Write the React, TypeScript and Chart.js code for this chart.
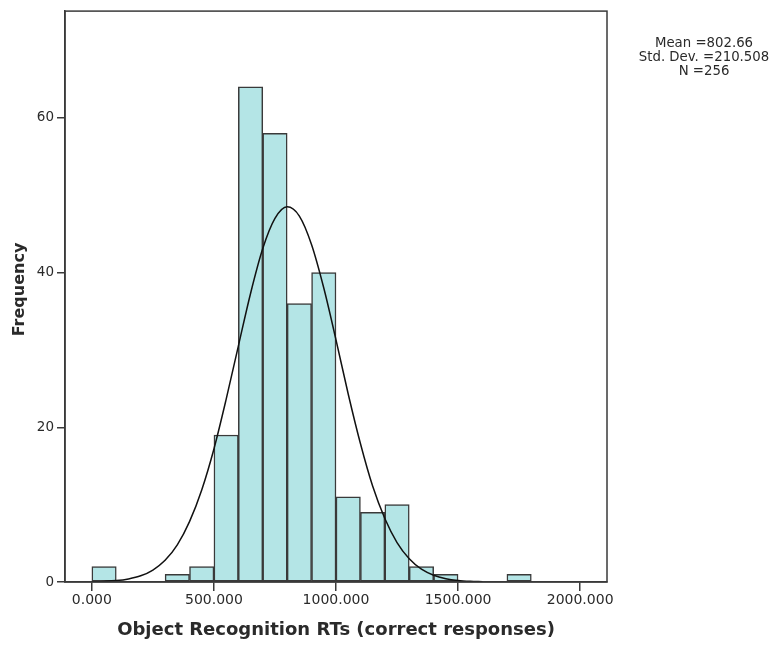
import React, { useEffect, useRef } from "react";
import { Chart, registerables } from "chart.js";

Chart.register(...registerables);

// Histogram bins (left edges, width 100) and their frequencies
const binWidth = 100;
const binStarts = [0, 100, 200, 300, 400, 500, 600, 700, 800, 900, 1000, 1100, 1200, 1300, 1400, 1500, 1600, 1700];
const counts = [2, 0, 0, 1, 2, 19, 64, 58, 36, 40, 11, 9, 10, 2, 1, 0, 0, 1];

// Fitted normal curve
const curveX = [0, 50, 100, 150, 200, 250, 300, 350, 400, 450, 500, 550, 600, 650, 700, 750, 800, 850, 900, 950, 1000, 1050, 1100, 1150, 1200, 1250, 1300, 1350, 1400, 1450, 1500, 1550, 1600];
const curveY = [0.03, 0.08, 0.18, 0.4, 0.8, 1.55, 2.8, 4.8, 7.8, 11.9, 17.2, 23.6, 30.5, 37.3, 43.1, 47.0, 48.5, 47.3, 43.6, 38.0, 31.3, 24.3, 17.9, 12.4, 8.2, 5.1, 3.0, 1.65, 0.87, 0.43, 0.2, 0.09, 0.04];

const xTicks = [0, 500, 1000, 1500, 2000];
const yTicks = [0, 20, 40, 60];
const statsLines = ["Mean =802.66", "Std. Dev. =210.508", "N =256"];
const xTitle = "Object Recognition RTs (correct responses)";
const yTitle = "Frequency";

const FONT = "'DejaVu Sans', sans-serif";
const LINE = "#3a3a3a";
const TEXT = "#2a2a2a";

export default function App() {
  const ref = useRef<HTMLCanvasElement | null>(null);

  useEffect(() => {
    document.body.style.margin = "0";
    const canvas = ref.current;
    if (!canvas) return;

    const framePlugin = {
      id: "frame",
      afterDatasetsDraw(chart: any) {
        const { ctx, chartArea } = chart;
        ctx.save();
        ctx.strokeStyle = LINE;
        ctx.lineWidth = 1.5;
        ctx.strokeRect(chartArea.left, chartArea.top, chartArea.right - chartArea.left, chartArea.bottom - chartArea.top);
        ctx.restore();
      },
      afterDraw(chart: any) {
        const { ctx } = chart;
        ctx.save();
        ctx.fillStyle = TEXT;
        ctx.font = `13.3px ${FONT}`;
        ctx.textAlign = "center";
        ctx.textBaseline = "middle";
        statsLines.forEach((s, i) => ctx.fillText(s, 704, 44 + i * 13.8));
        // vertical axis title
        ctx.translate(20, 289.5);
        ctx.rotate(-Math.PI / 2);
        ctx.font = `bold 16px ${FONT}`;
        ctx.fillText(yTitle, 0, 0);
        ctx.restore();
      },
    };

    const chart = new Chart(canvas, {
      type: "bar",
      data: {
        datasets: [
          {
            type: "line",
            data: curveX.map((x, i) => ({ x, y: curveY[i] })),
            borderColor: "#111",
            borderWidth: 1.5,
            pointRadius: 0,
            cubicInterpolationMode: "monotone",
            fill: false,
            order: 0,
          } as any,
          {
            type: "bar",
            data: binStarts.map((s, i) => ({ x: s + binWidth / 2, y: counts[i] })),
            backgroundColor: "#b4e5e6",
            borderColor: "#3a3a3a",
            borderWidth: 1.5,
            borderSkipped: false,
            barPercentage: 1,
            categoryPercentage: 1,
            order: 1,
          } as any,
        ],
      },
      options: {
        animation: false,
        responsive: false,
        layout: { padding: { left: 0, top: 11, right: 171, bottom: 0 } },
        plugins: { legend: { display: false }, tooltip: { enabled: false } },
        scales: {
          x: {
            type: "linear",
            min: -110,
            max: 2110,
            offset: false,
            afterBuildTicks: (scale: any) => {
              scale.ticks = xTicks.map((v) => ({ value: v }));
            },
            afterFit: (scale: any) => {
              scale.height = 64;
            },
            ticks: {
              color: TEXT,
              font: { family: FONT, size: 14 },
              padding: 1,
              maxRotation: 0,
              autoSkip: false,
              callback: (v: any) => Number(v).toFixed(3),
            },
            grid: { offset: false, drawOnChartArea: false, drawTicks: true, tickLength: 9, color: LINE, lineWidth: 1.5 },
            border: { display: true, color: LINE, width: 1.5 },
            title: {
              display: true,
              text: xTitle,
              color: TEXT,
              font: { family: FONT, size: 18, weight: "bold" },
              padding: { top: 0, bottom: 5 },
            },
          },
          y: {
            type: "linear",
            min: 0,
            max: 73.8,
            afterBuildTicks: (scale: any) => {
              scale.ticks = yTicks.map((v) => ({ value: v }));
            },
            afterFit: (scale: any) => {
              scale.width = 65;
            },
            ticks: {
              color: TEXT,
              font: { family: FONT, size: 13.5 },
              padding: 3,
            },
            grid: { drawOnChartArea: false, drawTicks: true, tickLength: 8, color: LINE, lineWidth: 1.5 },
            border: { display: true, color: LINE, width: 1.5 },
            title: { display: false },
          },
        },
      },
      plugins: [framePlugin],
    });

    return () => chart.destroy();
  }, []);

  return (
    <div style={{ width: 778, height: 646 }}>
      <canvas ref={ref} width={778} height={646} style={{ display: "block", width: 778, height: 646 }} />
    </div>
  );
}
